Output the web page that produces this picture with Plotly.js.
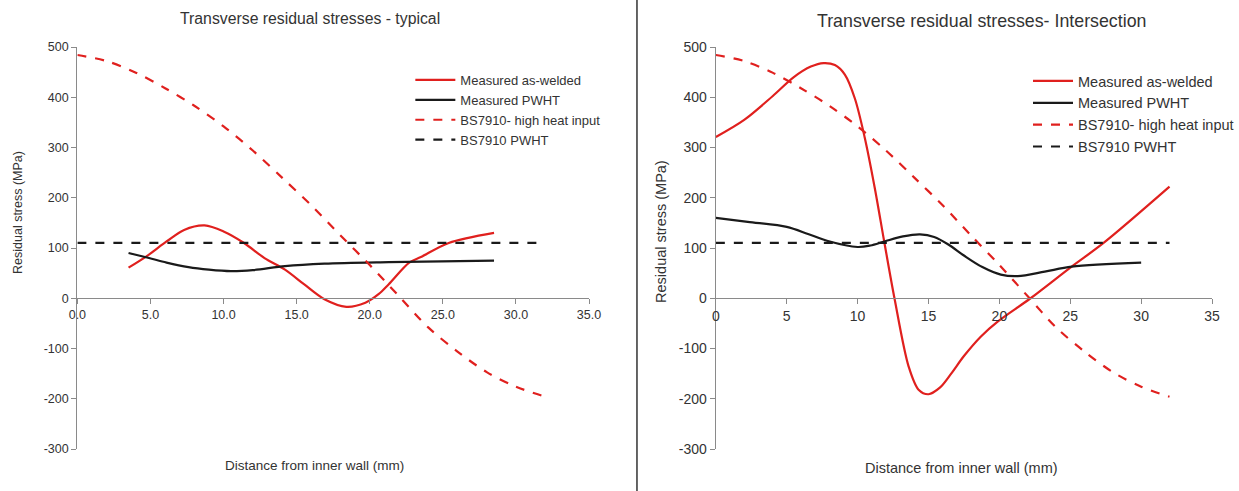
<!DOCTYPE html>
<html><head><meta charset="utf-8">
<script src="https://cdn.plot.ly/plotly-3.0.1.min.js"></script>
<style>html,body{margin:0;padding:0;background:#fff}#chart{width:1239px;height:491px}</style>
</head><body><div id="chart"></div>
<script>
// ---- Data ----
// BS7910 high heat input profile (same in both panels)
const bsHighX = [0,2,4,6,8,10,12,14,16,18,20,22,24,26,28,30,32];
const bsHighY = [484,472,449,418,383,342,294,240,185,125,66,4,-58,-106,-147,-176,-196];
// BS7910 PWHT constant level
const bsPwhtX = [0,32];
const bsPwhtY = [110,110];

// Left panel: typical
const typAsWeldedX = [3.5,4.75,6.1,7.3,8.7,10,11.4,12.8,14.2,15.5,16.9,18.4,19.7,20.6,21.3,22.7,23.5,25.4,28.5];
const typAsWeldedY = [61,84,113,136,145,133,110,80,57,28,-2,-17,-9,8,28,71,82,110,130];
const typPwhtX = [3.5,4.9,6.1,7.6,9,10.5,12,14.2,16.9,21.3,28.5];
const typPwhtY = [90,80,71,62,57,54,56,64,69,72,75];

// Right panel: intersection
const intAsWeldedX = [0,2,4,5.5,6.7,7.6,8.4,9.1,9.8,10.5,11.2,11.9,12.6,13.6,14.3,15,15.8,16.6,17.5,18.7,19.9,22.2,25.1,27.35,32];
const intAsWeldedY = [321,355,402,440,461,468,464,445,398,320,221,109,0,-136,-182,-191,-178,-150,-115,-76,-46,0,63,110,222];
const intPwhtX = [0,2.25,5,6.5,7.9,10,10.9,11.9,13.2,14.4,15.4,16.4,17.5,18.8,20.1,21.3,23.2,25.1,30];
const intPwhtY = [160,152,142,128,114,102,105,113,123,127,122,107,85,62,47,44,53,63,71];

const seriesNames = ["Measured as-welded","Measured PWHT","BS7910- high heat input","BS7910 PWHT"];
const xTicks = [0,5,10,15,20,25,30,35];
const xTickTextLeft = ["0.0","5.0","10.0","15.0","20.0","25.0","30.0","35.0"];
const xTickTextRight = ["0","5","10","15","20","25","30","35"];
const yTicks = [-300,-200,-100,0,100,200,300,400,500];
const yTickText = ["-300","-200","-100","0","100","200","300","400","500"];

// ---- Styles ----
const RED = "#e0201e", BLACK = "#1a1a1a", FONT = "Liberation Sans, Arial, sans-serif";
const W = 1239, H = 491;
const px = v => v / W, py = v => 1 - v / H;

function tr(x, y, name, color, dash, xa, ya, leg, shape) {
  return {x, y, name, type:"scatter", mode:"lines", xaxis:xa, yaxis:ya, legend:leg,
    line:{color, width:2.2, dash: dash ? "dash" : "solid", shape: shape || "linear", smoothing:0.9}};
}

const data = [
  tr(typAsWeldedX, typAsWeldedY, seriesNames[0], RED, false, "x", "y", "legend", "spline"),
  tr(typPwhtX, typPwhtY, seriesNames[1], BLACK, false, "x", "y", "legend", "spline"),
  tr(bsHighX, bsHighY, seriesNames[2], RED, true, "x", "y", "legend", "spline"),
  tr(bsPwhtX, bsPwhtY, seriesNames[3], BLACK, true, "x", "y", "legend"),
  tr(intAsWeldedX, intAsWeldedY, seriesNames[0], RED, false, "x2", "y2", "legend2", "spline"),
  tr(intPwhtX, intPwhtY, seriesNames[1], BLACK, false, "x2", "y2", "legend2", "spline"),
  tr(bsHighX, bsHighY, seriesNames[2], RED, true, "x2", "y2", "legend2", "spline"),
  tr(bsPwhtX, bsPwhtY, seriesNames[3], BLACK, true, "x2", "y2", "legend2"),
];

const yDom = [py(449), py(47)];
const zeroPos = yDom[0] + (yDom[1] - yDom[0]) * 300 / 800;

function xax(dom, txt, size) {
  return {domain:dom, range:[0,35], tickmode:"array", tickvals:xTicks, ticktext:txt, anchor:"free", position:zeroPos,
    showgrid:false, zeroline:false, showline:true, linecolor:"#8a8a8a", linewidth:1.2,
    ticks:"outside", ticklen:5, tickcolor:"#8a8a8a", tickfont:{family:FONT, size, color:"#333"}, fixedrange:true};
}
function yax(dom, size, anchorX) {
  return {domain:dom, range:[-300,500], tickmode:"array", tickvals:yTicks, ticktext:yTickText, anchor:anchorX,
    showgrid:false, zeroline:false, showline:true, linecolor:"#8a8a8a", linewidth:1.2, ticks:"outside", ticklen:5,
    tickcolor:"#8a8a8a", tickfont:{family:FONT, size, color:"#333"}, fixedrange:true};
}

function ann(text, x, y, size, angle) {
  return {text, xref:"paper", yref:"paper", x:px(x), y:py(y), xanchor:"center", yanchor:"middle",
    textangle: angle || 0, showarrow:false, font:{family:FONT, size, color:"#333"}};
}

const layout = {
  width:W, height:H, margin:{l:0,r:0,t:0,b:0}, paper_bgcolor:"#fff", plot_bgcolor:"rgba(0,0,0,0)",
  font:{family:FONT, color:"#333"},
  xaxis: xax([px(77.5), px(590)], xTickTextLeft, 12.5),
  yaxis: yax(yDom, 12.5, "x"),
  xaxis2: xax([px(717), px(1214)], xTickTextRight, 14),
  yaxis2: yax(yDom, 14, "x2"),
  legend:{x:px(411), y:py(65), xanchor:"left", yanchor:"top", bgcolor:"rgba(0,0,0,0)",
    font:{family:FONT, size:13, color:"#333"}, tracegroupgap:0, itemwidth:40},
  legend2:{x:px(1030), y:py(65), xanchor:"left", yanchor:"top", bgcolor:"rgba(0,0,0,0)",
    font:{family:FONT, size:14.5, color:"#333"}, tracegroupgap:0, itemwidth:40},
  showlegend:true,
  shapes:[{type:"line", xref:"paper", yref:"paper", x0:px(638), x1:px(638), y0:0, y1:1,
    line:{color:"#333", width:1.5}}],
  annotations:[
    ann("Transverse residual stresses - typical", 311, 18, 15.8),
    ann("Transverse residual stresses- Intersection", 983, 21, 17.8),
    ann("Residual stress (MPa)", 18, 212, 12.5, -90),
    ann("Residual stress (MPa)", 662, 231, 14.5, -90),
    ann("Distance from inner wall (mm)", 315, 465, 13.5),
    ann("Distance from inner wall (mm)", 963, 468, 14.5),
  ]
};
Plotly.newPlot("chart", data, layout, {staticPlot:true, displayModeBar:false});
</script></body></html>
